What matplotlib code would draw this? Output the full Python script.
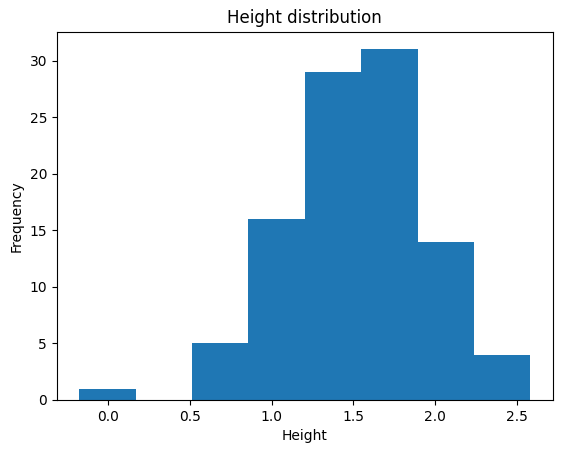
import numpy as np
import matplotlib.pyplot as plt

# bin edges and counts
bin_edges = [-0.174, 0.170, 0.515, 0.859, 1.203, 1.548, 1.892, 2.236, 2.581]
counts = [1, 0, 5, 16, 29, 31, 14, 4]

fig = plt.figure(figsize=(5.63, 4.54), dpi=100)
ax = fig.add_subplot(111)
fig.subplots_adjust(left=0.101, right=0.982, top=0.930, bottom=0.119)

ax.hist(bin_edges[:-1], bins=bin_edges, weights=counts, color='#1f77b4')
ax.set_title('Height distribution')
ax.set_xlabel('Height')
ax.set_ylabel('Frequency')

fig.savefig('out.png', dpi=100)
